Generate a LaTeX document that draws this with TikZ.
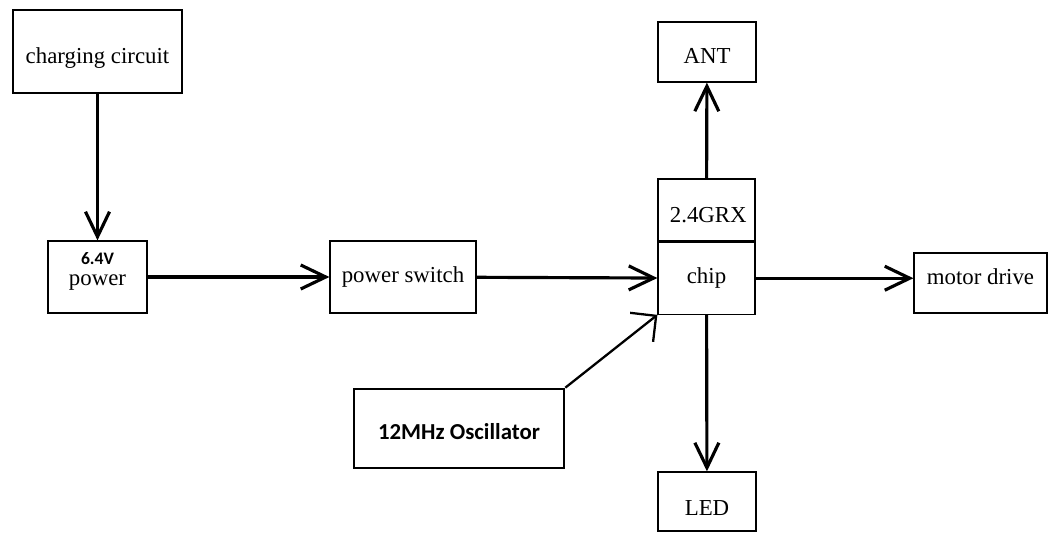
\documentclass[tikz,border=0pt]{standalone}
\usepackage{fontspec}
\setmainfont{Liberation Serif}
\newfontfamily\calfont{Carlito}
\usetikzlibrary{arrows.meta}
\newcommand{\lowertext}[2]{\raisebox{#1}[\height][\depth]{#2}}
\tikzset{
    blk/.style={draw, line width=0.7pt, inner sep=2pt, font=\fontsize{13}{15}\selectfont},
    oscblk/.style={draw, line width=1.5pt, inner sep=2pt, font=\calfont\bfseries\fontsize{13}{15}\selectfont},
    bd/.style={>={Straight Barb[length=0.5cm, width=0.48cm]}, line width=1.8pt}
}

\begin{document}
\begin{tikzpicture}[bd]
        \useasboundingbox[fill=white] (0,0) rectangle (21.22,10.8);
        \node[blk, minimum width=3.38cm, minimum height=1.66cm] (chg) at (1.95,9.77) {\lowertext{-3.5pt}{charging circuit}};
        \node[blk, minimum width=1.98cm, minimum height=1.44cm,
              label={[yshift=-0.52cm, inner sep=0pt, font=\calfont\bfseries\fontsize{10}{11}\selectfont]north:6.4V}] (pwr) at (1.95,5.26) {\lowertext{-3pt}{power}};
        \node[blk, minimum width=2.92cm, minimum height=1.44cm] (sw) at (8.06,5.26) {power switch};
        \node[blk, minimum width=1.94cm, minimum height=1.24cm] (rx) at (14.13,6.6) {\hspace{2pt}\lowertext{-3pt}{2.4GRX}};
        \node[blk, minimum width=1.94cm, minimum height=1.44cm, anchor=north] (chip) at (rx.south) {chip};
        \node[blk, minimum width=1.96cm, minimum height=1.2cm] (ant) at (14.14,9.76) {\lowertext{-2pt}{ANT}};
        \node[blk, minimum width=1.96cm, minimum height=1.18cm] (led) at (14.14,0.77) {\lowertext{-4pt}{LED}};
        \node[blk, minimum width=2.66cm, minimum height=1.2cm] (mot) at (19.61,5.14) {\lowertext{3.5pt}{motor drive}};
        \node[oscblk, minimum width=4.2cm, minimum height=1.58cm] (osc) at (9.18,2.23) {\lowertext{-2pt}{12MHz Oscillator}};

        \draw[->] (chg) -- (pwr);
        \draw[->] (pwr) -- (sw);
        \draw[->] (sw) -- (chip);
        \draw[->] (chip.east) -- (chip.east -| mot.west);
        \draw[->] (rx) -- (ant);
        \draw[->] (chip) -- (led);
        \draw[->, line width=1.3pt, >={Straight Barb[length=0.37cm, width=0.74cm]}] (osc.north east) -- (chip.south west);
    \end{tikzpicture}
\end{document}
